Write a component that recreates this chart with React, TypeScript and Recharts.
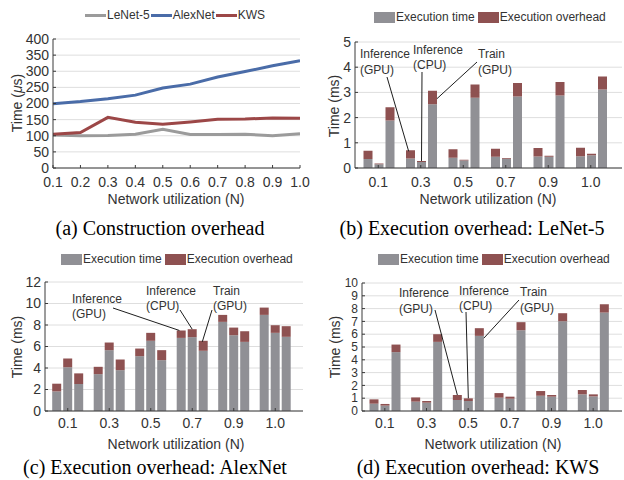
import React from 'react';
import { LineChart, Line, BarChart, Bar, XAxis, YAxis, CartesianGrid } from 'recharts';

const SANS = '"Liberation Sans", Arial, Helvetica, sans-serif';
const SERIF = '"Liberation Serif", "Times New Roman", serif';
const AXIS = '#3a3a3a';
const TXT = '#333';
const GRID = '#dedede';
const GRAY = '#909095';
const RED = '#8e5151';

// (a) construction overhead, µs
const utilization = [0.1, 0.2, 0.3, 0.4, 0.5, 0.6, 0.7, 0.8, 0.9, 1.0];
const lenetConstruct = [102, 100, 101, 105, 120, 104, 104, 105, 100, 106];
const alexnetConstruct = [199, 206, 215, 226, 248, 260, 282, 299, 317, 333];
const kwsConstruct = [105, 110, 157, 142, 136, 143, 151, 152, 155, 154];
const constructTicks = [0, 50, 100, 150, 200, 250, 300, 350, 400];

// (b)-(d) execution time and total (time + overhead), ms
const groups = ['0.1', '0.3', '0.5', '0.7', '0.9', '1.0'];

const lenetGpuTime = [0.36, 0.38, 0.41, 0.45, 0.46, 0.47];
const lenetGpuTotal = [0.68, 0.7, 0.74, 0.76, 0.79, 0.8];
const lenetCpuTime = [0.15, 0.24, 0.3, 0.37, 0.45, 0.51];
const lenetCpuTotal = [0.18, 0.28, 0.33, 0.4, 0.49, 0.57];
const lenetTrainTime = [1.88, 2.53, 2.79, 2.84, 2.88, 3.12];
const lenetTrainTotal = [2.41, 3.07, 3.31, 3.37, 3.41, 3.63];

const alexGpuTime = [1.82, 3.43, 5.1, 6.8, 8.29, 8.94];
const alexGpuTotal = [2.54, 4.11, 5.81, 7.49, 8.94, 9.62];
const alexCpuTime = [4.08, 5.66, 6.53, 6.87, 7.05, 7.27];
const alexCpuTotal = [4.89, 6.37, 7.27, 7.61, 7.76, 7.98];
const alexTrainTime = [2.51, 3.8, 4.73, 5.6, 6.43, 6.9];
const alexTrainTotal = [3.5, 4.79, 5.66, 6.53, 7.42, 7.89];

const kwsGpuTime = [0.57, 0.73, 0.86, 1.04, 1.19, 1.3];
const kwsGpuTotal = [0.91, 1.06, 1.25, 1.4, 1.56, 1.64];
const kwsCpuTime = [0.42, 0.65, 0.78, 0.96, 1.12, 1.14];
const kwsCpuTotal = [0.55, 0.78, 0.99, 1.12, 1.25, 1.3];
const kwsTrainTime = [4.6, 5.4, 5.87, 6.31, 7.01, 7.69];
const kwsTrainTotal = [5.19, 6.0, 6.47, 6.94, 7.64, 8.34];

const constructRows = utilization.map((u, i) => ({
  u,
  lenet: lenetConstruct[i],
  alexnet: alexnetConstruct[i],
  kws: kwsConstruct[i],
}));

const rows = (gT: number[], gS: number[], cT: number[], cS: number[], tT: number[], tS: number[]) =>
  groups.map((g, i) => ({
    g,
    gpuT: gT[i], gpuO: +(gS[i] - gT[i]).toFixed(2),
    cpuT: cT[i], cpuO: +(cS[i] - cT[i]).toFixed(2),
    trT: tT[i], trO: +(tS[i] - tT[i]).toFixed(2),
  }));

const lenetRows = rows(lenetGpuTime, lenetGpuTotal, lenetCpuTime, lenetCpuTotal, lenetTrainTime, lenetTrainTotal);
const alexRows = rows(alexGpuTime, alexGpuTotal, alexCpuTime, alexCpuTotal, alexTrainTime, alexTrainTotal);
const kwsRows = rows(kwsGpuTime, kwsGpuTotal, kwsCpuTime, kwsCpuTotal, kwsTrainTime, kwsTrainTotal);

type Note = { idx: number; l1: string; l2: string; tx: number; ty: number; gap: number; lx: number; ly: number; ex: number; ey: number };

// leader line from the text to the top of the annotated bar
const leader = (n: Note) => (p: any) => {
  if (p.index !== n.idx) return null;
  const vb = p.viewBox || p;
  return (
    <g>
      <line x1={n.lx} y1={n.ly} x2={vb.x + vb.width * n.ex} y2={vb.y + n.ey} stroke="#1e1e1e" strokeWidth={1} />
      <text x={n.tx} y={n.ty} fontSize={12} fill={TXT} fontFamily={SANS}>{n.l1}</text>
      <text x={n.tx} y={n.ty + n.gap} fontSize={12} fill={TXT} fontFamily={SANS}>{n.l2}</text>
    </g>
  );
};

const Center = ({ x, y, rot, size, serif, children }: any) => (
  <div style={{
    position: 'absolute', left: x, top: y, whiteSpace: 'nowrap', lineHeight: 1,
    transform: `translate(-50%, -50%)${rot ? ' rotate(-90deg)' : ''}`,
    fontSize: size, fontFamily: serif ? SERIF : SANS, color: serif ? '#000' : TXT,
  }}>{children}</div>
);

const BarLegend = ({ x, y }: { x: number; y: number }) => (
  <div style={{ position: 'absolute', left: x, top: y - 6, display: 'flex', alignItems: 'center', fontFamily: SANS, fontSize: 12, color: TXT, lineHeight: '12px' }}>
    <span style={{ width: 21, height: 11, background: GRAY, marginRight: 1 }} />
    <span style={{ marginRight: 3 }}>Execution time</span>
    <span style={{ width: 21, height: 11, background: RED, marginRight: 1 }} />
    <span>Execution overhead</span>
  </div>
);

const LineLegend = ({ x, y }: { x: number; y: number }) => {
  const items = [['LeNet-5', '#9b9b9b'], ['AlexNet', '#4a6ca8'], ['KWS', '#9c4747']];
  return (
    <div style={{ position: 'absolute', left: x, top: y - 6, display: 'flex', alignItems: 'center', fontFamily: SANS, fontSize: 12, color: TXT, lineHeight: '12px' }}>
      {items.map(([name, c]) => (
        <React.Fragment key={name}>
          <span style={{ width: 21, height: 3, background: c, marginRight: 1 }} />
          <span style={{ marginRight: 1 }}>{name}</span>
        </React.Fragment>
      ))}
    </div>
  );
};

const tickStyle = { fontSize: 14, fill: TXT, fontFamily: SANS };

type PanelProps = {
  data: any[]; max: number; ticks: number[]; w: number; h: number;
  margin: any; yWidth: number; yFont: number; xHeight: number; xMargin: number;
  pad: { left: number; right: number }; catGap: number; notes: Note[];
};

const ExecPanel = ({ data, max, ticks, w, h, margin, yWidth, yFont, xHeight, xMargin, pad, catGap, notes }: PanelProps) => {
  const [gpu, cpu, tr] = notes;
  return (
    <BarChart width={w} height={h} data={data} margin={margin} barGap={2} barCategoryGap={catGap}>
      <CartesianGrid vertical={false} stroke={GRID} />
      <XAxis dataKey="g" interval={0} padding={pad} height={xHeight} tickSize={-3} tickMargin={xMargin} stroke={AXIS} tick={tickStyle} />
      <XAxis xAxisId="top" orientation="top" dataKey="g" interval={0} padding={pad} height={0} tickSize={-3} tick={false} stroke={AXIS} />
      <YAxis type="number" domain={[0, max]} ticks={ticks} interval={0} width={yWidth} tickSize={-3} tickMargin={7} stroke={AXIS}
        tick={{ ...tickStyle, fontSize: yFont }} allowDataOverflow />
      <YAxis yAxisId="r" orientation="right" type="number" domain={[0, max]} ticks={ticks} interval={0} width={0} tickSize={-3} tick={false} stroke={AXIS} allowDataOverflow />
      <Bar dataKey="gpuT" stackId="gpu" fill={GRAY} isAnimationActive={false} />
      <Bar dataKey="gpuO" stackId="gpu" fill={RED} isAnimationActive={false} label={leader(gpu)} />
      <Bar dataKey="cpuT" stackId="cpu" fill={GRAY} isAnimationActive={false} />
      <Bar dataKey="cpuO" stackId="cpu" fill={RED} isAnimationActive={false} label={leader(cpu)} />
      <Bar dataKey="trT" stackId="tr" fill={GRAY} isAnimationActive={false} />
      <Bar dataKey="trO" stackId="tr" fill={RED} isAnimationActive={false} label={leader(tr)} />
    </BarChart>
  );
};

const lenetNotes: Note[] = [
  { idx: 1, l1: 'Inference', l2: '(GPU)', tx: 48, ty: 58, gap: 16, lx: 75, ly: 77, ex: 0.3, ey: 1 },
  { idx: 1, l1: 'Inference', l2: '(CPU)', tx: 101, ty: 54, gap: 15, lx: 110, ly: 72, ex: 0.5, ey: 0 },
  { idx: 1, l1: 'Train', l2: '(GPU)', tx: 166, ty: 58, gap: 16, lx: 165, ly: 62, ex: 1, ey: 8 },
];
const alexNotes: Note[] = [
  { idx: 3, l1: 'Inference', l2: '(GPU)', tx: 72, ty: 63, gap: 15, lx: 113, ly: 68, ex: 0.3, ey: 0 },
  { idx: 3, l1: 'Inference', l2: '(CPU)', tx: 146, ty: 55, gap: 15, lx: 180, ly: 70, ex: 0.5, ey: 0 },
  { idx: 3, l1: 'Train', l2: '(GPU)', tx: 213, ty: 55, gap: 15, lx: 212, ly: 70, ex: 0.4, ey: 1 },
];
const kwsNotes: Note[] = [
  { idx: 2, l1: 'Inference', l2: '(GPU)', tx: 87, ty: 57, gap: 16, lx: 123, ly: 70, ex: 0.5, ey: 0 },
  { idx: 2, l1: 'Inference', l2: '(CPU)', tx: 147, ty: 55, gap: 15, lx: 154, ly: 72, ex: 0.5, ey: 0 },
  { idx: 2, l1: 'Train', l2: '(GPU)', tx: 208, ty: 56, gap: 16, lx: 207, ly: 60, ex: 1, ey: 10 },
];

export default function App() {
  return (
    <div style={{ position: 'absolute', left: 0, top: 0, width: 624, height: 480, background: '#fff', overflow: 'hidden' }}>
      {/* (a) */}
      <div style={{ position: 'absolute', left: 0, top: 0 }}>
        <LineChart width={312} height={200} data={constructRows} margin={{ top: 39, right: 12, bottom: 0, left: 0 }}>
          <CartesianGrid vertical={false} stroke={GRID} />
          <XAxis dataKey="u" type="number" domain={[0.1, 1]} ticks={utilization} interval={0} tickFormatter={(v: number) => v.toFixed(1)}
            height={32} tickSize={-3} tickMargin={12} stroke={AXIS} tick={tickStyle} allowDataOverflow />
          <XAxis xAxisId="top" orientation="top" dataKey="u" type="number" domain={[0.1, 1]} ticks={utilization} interval={0}
            height={0} tickSize={-3} tick={false} stroke={AXIS} allowDataOverflow />
          <YAxis type="number" domain={[0, 400]} ticks={constructTicks} interval={0} width={53} tickSize={-3} tickMargin={7} stroke={AXIS} tick={tickStyle} allowDataOverflow />
          <YAxis yAxisId="r" orientation="right" type="number" domain={[0, 400]} ticks={constructTicks} interval={0} width={0} tickSize={-3} tick={false} stroke={AXIS} allowDataOverflow />
          <Line dataKey="lenet" stroke="#9b9b9b" strokeWidth={3} dot={false} isAnimationActive={false} />
          <Line dataKey="alexnet" stroke="#4a6ca8" strokeWidth={3} dot={false} isAnimationActive={false} />
          <Line dataKey="kws" stroke="#9c4747" strokeWidth={3} dot={false} isAnimationActive={false} />
        </LineChart>
      </div>
      <LineLegend x={85} y={15} />
      <Center x={17} y={103} size={14} rot>Time (<i>μ</i>s)</Center>
      <Center x={176} y={199} size={14}>Network utilization (N)</Center>
      <Center x={160} y={228} size={20} serif>(a) Construction overhead</Center>

      {/* (b) */}
      <div style={{ position: 'absolute', left: 312, top: 0 }}>
        <ExecPanel data={lenetRows} max={5} ticks={[0, 1, 2, 3, 4, 5]} w={312} h={200}
          margin={{ top: 42, right: 2, bottom: 0, left: 0 }} yWidth={43} yFont={14} xHeight={32} xMargin={12}
          pad={{ left: 2, right: 10 }} catGap={6.5} notes={lenetNotes} />
      </div>
      <BarLegend x={374} y={17} />
      <Center x={334} y={106} size={14} rot>Time (ms)</Center>
      <Center x={488} y={199} size={14}>Network utilization (N)</Center>
      <Center x={472} y={228} size={20} serif>(b) Execution overhead: LeNet-5</Center>

      {/* (c) */}
      <div style={{ position: 'absolute', left: 0, top: 240 }}>
        <ExecPanel data={alexRows} max={12} ticks={[0, 2, 4, 6, 8, 10, 12]} w={312} h={190}
          margin={{ top: 42, right: 9, bottom: 0, left: 0 }} yWidth={45} yFont={14} xHeight={19} xMargin={10}
          pad={{ left: 2, right: 7 }} catGap={5.2} notes={alexNotes} />
      </div>
      <BarLegend x={61} y={259} />
      <Center x={17} y={347} size={14} rot>Time (ms)</Center>
      <Center x={176} y={444} size={14}>Network utilization (N)</Center>
      <Center x={155} y={467} size={20} serif>(c) Execution overhead: AlexNet</Center>

      {/* (d) */}
      <div style={{ position: 'absolute', left: 312, top: 240 }}>
        <ExecPanel data={kwsRows} max={10} ticks={[0, 1, 2, 3, 4, 5, 6, 7, 8, 9, 10]} w={312} h={190}
          margin={{ top: 43, right: 2, bottom: 0, left: 0 }} yWidth={50} yFont={12} xHeight={19} xMargin={10}
          pad={{ left: 2, right: 8 }} catGap={5.5} notes={kwsNotes} />
      </div>
      <BarLegend x={378} y={259} />
      <Center x={335} y={347} size={14} rot>Time (ms)</Center>
      <Center x={493} y={444} size={14}>Network utilization (N)</Center>
      <Center x={478} y={467} size={20} serif>(d) Execution overhead: KWS</Center>
    </div>
  );
}
